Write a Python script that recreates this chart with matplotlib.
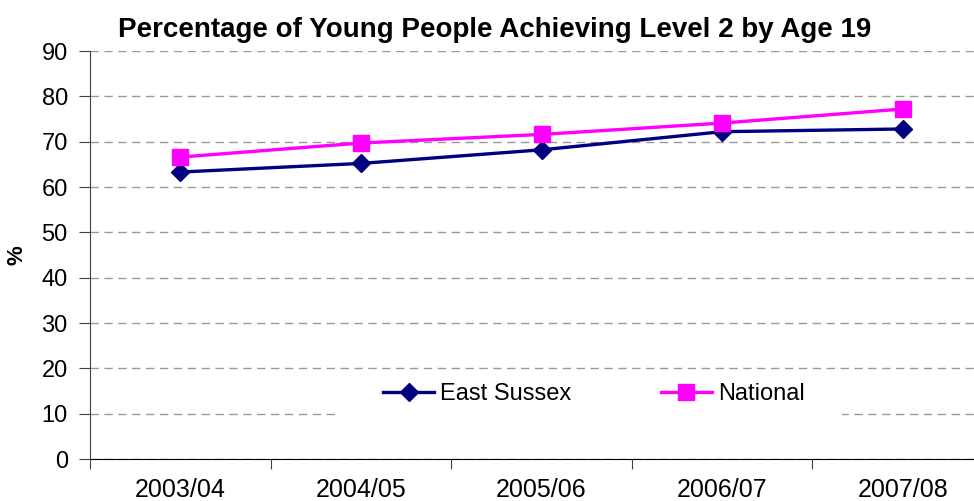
import matplotlib.pyplot as plt
from matplotlib.patches import Rectangle

plt.rcParams['font.family'] = ['Liberation Sans', 'DejaVu Sans']

years = ["2003/04", "2004/05", "2005/06", "2006/07", "2007/08"]
east_sussex = [63.3, 65.2, 68.2, 72.2, 72.8]
national = [66.6, 69.7, 71.6, 74.1, 77.2]

x = list(range(len(years)))

fig = plt.figure(figsize=(9.74, 5.01), dpi=100)
# plot area runs slightly past the right edge of the figure
ax = fig.add_axes([90 / 974, 42 / 501, 903 / 974, 408 / 501])

ax.plot(x, east_sussex, color='#000080', lw=2.4, marker='D', ms=9.5,
        label="East Sussex", zorder=4)
ax.plot(x, national, color='#FF00FF', lw=2.4, marker='s', ms=12,
        label="National", zorder=4)

ax.set_xlim(-0.5, len(years) - 0.5)
ax.set_ylim(0, 90)
ax.set_yticks(range(0, 91, 10))

# category boundaries get the tick marks, centres get the labels
ax.set_xticks([i - 0.5 for i in range(len(years) + 1)])
ax.set_xticklabels([])
ax.set_xticks(x, minor=True)
ax.set_xticklabels(years, minor=True)
ax.tick_params(axis='x', which='major', length=7, direction='out', color='#404040')
ax.tick_params(axis='x', which='minor', length=0, pad=14, labelsize=18)
ax.tick_params(axis='y', length=8, direction='out', pad=8, labelsize=17, color='#404040')

ax.yaxis.grid(True, linestyle=(0, (6, 4)), color='#999999', lw=1)
ax.set_axisbelow(True)

for side in ['top', 'right']:
    ax.spines[side].set_visible(False)
ax.spines['left'].set_color('#404040')
ax.spines['bottom'].set_color('black')

ax.set_ylabel("%", fontsize=16, fontweight='bold', labelpad=10)
fig.text(0.508, 0.94, "Percentage of Young People Achieving Level 2 by Age 19",
         ha='center', va='center', fontsize=20, fontweight='bold')

# white backing behind the legend
to_ax = ax.transAxes.inverted()
x0, y0 = to_ax.transform((340, 501 - 420))
x1, y1 = to_ax.transform((842, 501 - 374))
ax.add_patch(Rectangle((x0, y0), x1 - x0, y1 - y0, transform=ax.transAxes,
                       facecolor='white', edgecolor='none', zorder=2))

leg_x, leg_y = to_ax.transform((594, 501 - 394))
ax.legend(loc='center', bbox_to_anchor=(leg_x, leg_y), ncol=2, frameon=False,
          fontsize=17, handlelength=2.15, handletextpad=0.25, columnspacing=3.8,
          borderaxespad=0, borderpad=0)

fig.savefig("out.png", dpi=100)
